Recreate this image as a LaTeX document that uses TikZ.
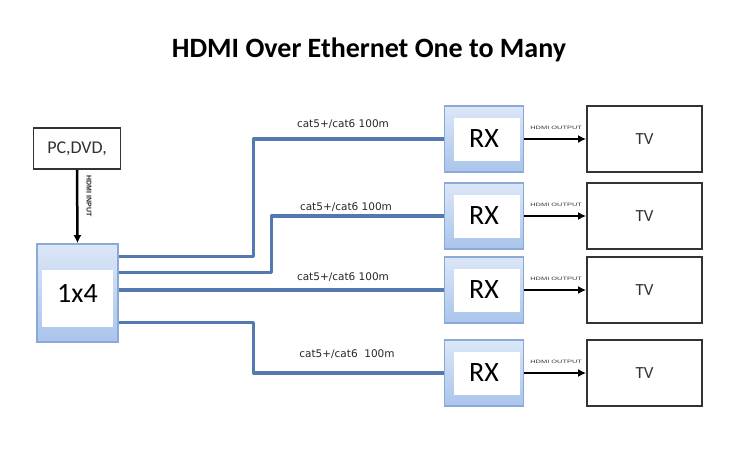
\documentclass[tikz,border=0pt]{standalone}
\usepackage{fontspec}
\setmainfont{Carlito}
\newfontfamily\dejavu{DejaVu Sans}
\newfontfamily\libsans{Liberation Sans}
\usetikzlibrary{calc,arrows.meta,shadings}

\definecolor{cablecol}{HTML}{5479B0}
\definecolor{boxedge}{HTML}{8AA8D8}
\definecolor{boxtop}{HTML}{DCE7F7}
\definecolor{boxbot}{HTML}{AAC4EC}
\definecolor{txtgray}{HTML}{333333}

\begin{document}
\begin{tikzpicture}[x=1pt,y=-1pt,
  bluebox/.style={draw=boxedge, line width=1.6pt, top color=boxtop, bottom color=boxbot,
    inner sep=0pt, font=\fontsize{28}{28}\selectfont},
  rxbox/.style={bluebox, minimum width=79pt, minimum height=66pt,
    path picture={\fill[white] ($(path picture bounding box.north west)+(9,12)$) rectangle ($(path picture bounding box.south east)+(-4,-11)$);}},
  swbox/.style={bluebox, minimum width=81pt, minimum height=98pt,
    path picture={\fill[white] ($(path picture bounding box.north west)+(5,26)$) rectangle ($(path picture bounding box.south east)+(-5,-15)$);}},
  tvbox/.style={draw=txtgray, line width=1.8pt, fill=white, minimum width=115pt, minimum height=66pt,
    inner sep=0pt, text=txtgray, font=\fontsize{17}{17}\selectfont},
  pcbox/.style={draw=txtgray, line width=1.8pt, fill=white, minimum width=87pt, minimum height=41pt,
    inner sep=0pt, text=txtgray, font=\fontsize{18}{18}\selectfont},
  cable/.style={draw=cablecol, line width=3.2pt, line join=round},
  catlbl/.style={inner sep=0pt, text=black!85, font=\dejavu\fontsize{10.5}{10.5}\selectfont},
  outlbl/.style={inner sep=0pt, text=txtgray, font=\libsans\fontsize{4.8}{4.8}\selectfont, xscale=1.55},
  sigarrow/.style={draw=black, line width=2.5pt, -{Latex[length=8pt,width=8pt]}}
]
\useasboundingbox (0,0) rectangle (750,448);

% title
\node[anchor=base, inner sep=0pt, font=\bfseries\fontsize{28}{28}\selectfont] (title) at (369,57) {HDMI Over Ethernet One to Many};

% source
\node[pcbox] (pc) at (77,148.5) {PC,DVD,};
\node[swbox] (sw) at (77.5,293) {\raisebox{-9pt}{1x4}};
\draw[sigarrow] (pc.south) -- (sw.north);
\node[rotate=-90, inner sep=0pt, text=black!85, font=\libsans\bfseries\fontsize{7}{7}\selectfont] (hin) at (89,196) {HDMI INPUT};

% receivers and TVs
\foreach \i/\yy in {1/139, 2/216, 3/290, 4/373} {
  \node[rxbox] (rx\i) at (484,\yy) {\raisebox{-3pt}{RX}};
  \node[tvbox] (tv\i) at (644.5,\yy) {TV};
  \draw[sigarrow] (rx\i.east) -- (tv\i.west);
  \node[outlbl] (out\i) at ($(rx\i.east)!0.5!(tv\i.west)+(1,-11)$) {HDMI OUTPUT};
}

% cables
\draw[cable] ($(sw.north east)+(0,13)$) -| ($(rx1.west)+(-190,0)$) -- (rx1.west);
\draw[cable] ($(sw.north east)+(0,29)$) -| ($(rx2.west)+(-172,0)$) -- (rx2.west);
\draw[cable] (sw.east |- rx3.west) -- (rx3.west);
\draw[cable] ($(sw.north east)+(0,79)$) -| ($(rx4.west)+(-190,0)$) -- (rx4.west);

% cable labels
\node[catlbl] (c1) at (343,124) {cat5+/cat6 100m};
\node[catlbl] (c2) at (346,207) {cat5+/cat6 100m};
\node[catlbl] (c3) at (343,277) {cat5+/cat6 100m};
\node[catlbl] (c4) at (347,354) {cat5+/cat6~ 100m};
\end{tikzpicture}
\end{document}
